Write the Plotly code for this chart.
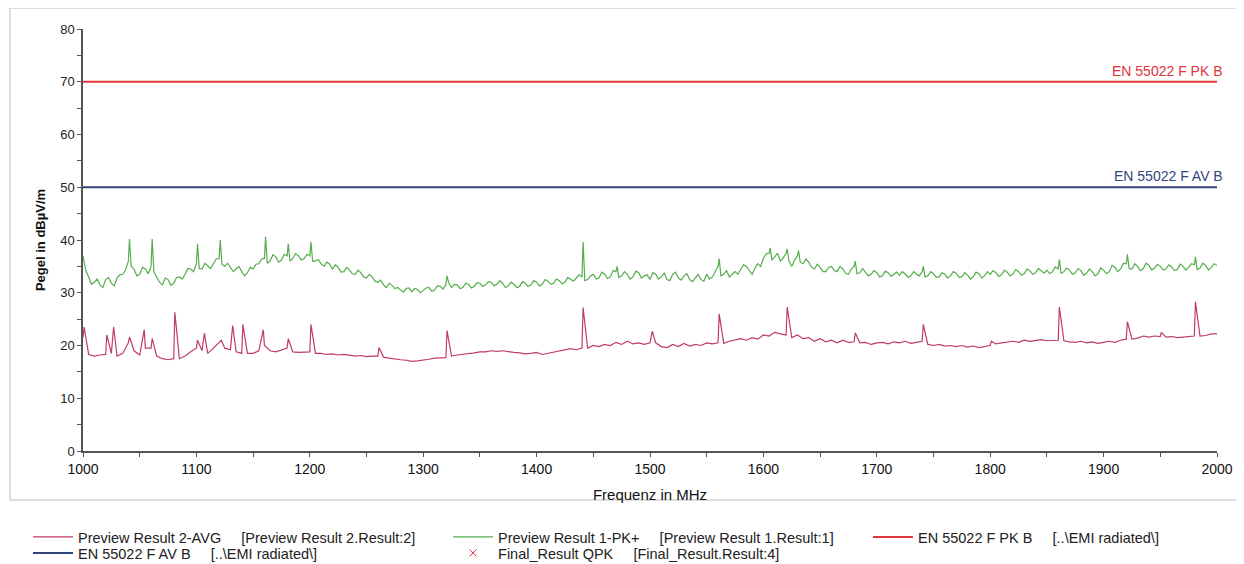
import plotly.graph_objects as go

# Frequency grid (MHz) for both preview traces, 5 MHz steps
grid_start, grid_step = 1000, 5

# Preview Result 1-PK+ (green), one value per 5 MHz from 1000 to 2000
pk_levels = [
    37.0, 33.0, 32.0, 31.5, 32.5, 31.8, 32.8, 33.5, 36.0, 34.5,
    33.5, 34.5, 35.0, 33.0, 31.5, 32.5, 31.8, 33.0, 33.5, 34.5,
    35.5, 34.5, 35.0, 35.5, 36.5, 35.0, 34.8, 34.5, 34.0, 33.8,
    34.5, 35.5, 36.5, 36.0, 36.8, 36.2, 37.0, 36.5, 37.0, 36.5,
    37.0, 36.0, 35.5, 35.8, 34.5, 34.8, 34.0, 34.3, 33.5, 33.8,
    32.8, 33.0, 32.0, 31.5, 31.8, 30.8, 30.5, 30.8, 30.2, 30.6,
    30.4, 31.0, 30.5, 31.2, 31.5, 31.0, 31.5, 31.0, 31.6, 31.2,
    31.8, 31.5, 32.0, 31.6, 31.8, 31.3, 31.6, 31.2, 31.8, 31.5,
    32.0, 31.6, 32.2, 31.8, 32.3, 32.0, 32.5, 32.8, 33.0, 32.5,
    33.5, 32.8, 33.5, 33.0, 34.0, 33.2, 33.5, 33.0, 33.8, 33.2,
    32.5, 33.5, 33.0, 32.5, 33.5, 32.8, 33.2, 32.5, 32.8, 32.5,
    33.5, 33.0, 35.0, 33.5, 33.0, 34.0, 34.5, 35.0, 33.5, 35.5,
    36.5, 37.5, 36.8, 36.0, 37.5, 35.0, 37.0, 35.5, 35.8, 34.5,
    34.8, 34.0, 35.0, 34.0, 34.5, 33.5, 35.0, 33.8, 34.0, 33.5,
    33.8, 33.2, 33.8, 33.5, 33.3, 33.6, 33.2, 33.5, 34.0, 33.2,
    33.6, 33.0, 33.5, 33.2, 33.7, 33.0, 33.4, 33.0, 33.6, 33.2,
    33.5, 33.8, 33.4, 33.9, 33.5, 34.0, 33.6, 34.2, 33.8, 34.1,
    34.3, 34.0, 34.5, 34.0, 34.3, 33.8, 34.2, 33.7, 34.0, 33.6,
    34.3, 34.0, 34.8, 34.5, 35.5, 34.5, 35.0, 34.6, 35.2, 34.7,
    35.0, 34.5, 34.9, 34.4, 35.0, 34.8, 35.3, 34.7, 35.2, 34.8,
    35.2,
]
# PK+ readings halfway between the grid points (1002.5, 1007.5, ... 1997.5)
pk_mid_levels = [
    34.2, 31.6, 32.6, 31.0, 32.9, 31.3, 33.4, 34.3, 35.0, 33.2,
    34.8, 33.6, 34.0, 32.0, 32.8, 31.4, 32.9, 32.6, 34.6, 34.0,
    34.6, 35.6, 34.6, 36.4, 35.4, 35.6, 34.0, 35.0, 33.2, 34.8,
    35.4, 36.4, 35.6, 37.2, 35.8, 37.3, 36.0, 37.4, 36.2, 37.3,
    36.0, 36.3, 35.0, 35.4, 35.3, 33.9, 34.8, 33.6, 34.3, 33.0,
    33.5, 32.2, 32.4, 31.0, 31.4, 31.0, 30.1, 30.9, 30.8, 30.0,
    30.9, 30.3, 31.3, 30.7, 31.9, 31.6, 30.8, 31.8, 30.9, 31.9,
    31.2, 32.1, 31.3, 32.3, 31.0, 32.0, 31.0, 32.1, 31.2, 32.3,
    31.3, 32.5, 31.6, 32.6, 31.7, 32.9, 32.2, 33.4, 32.3, 33.2,
    32.6, 33.9, 32.7, 34.2, 32.9, 34.0, 32.6, 34.1, 32.8, 33.4,
    33.8, 32.6, 33.7, 32.3, 33.9, 32.4, 33.6, 32.1, 33.5, 32.2,
    32.6, 34.0, 33.2, 34.2, 33.6, 33.5, 35.3, 34.2, 34.6, 35.0,
    37.4, 36.2, 37.5, 36.6, 36.0, 36.2, 35.8, 36.4, 34.8, 35.4,
    34.0, 34.8, 34.2, 35.0, 33.7, 34.5, 33.6, 34.6, 33.2, 34.2,
    33.0, 34.1, 33.1, 33.9, 34.0, 32.9, 34.0, 33.2, 33.0, 34.0,
    32.9, 33.8, 32.8, 34.0, 32.9, 33.8, 32.6, 33.9, 32.8, 34.0,
    34.2, 33.1, 34.3, 33.2, 34.4, 33.3, 34.5, 33.5, 34.6, 33.7,
    33.6, 34.9, 33.7, 34.7, 33.5, 34.6, 33.3, 34.5, 33.2, 34.7,
    33.6, 35.2, 34.0, 35.6, 34.6, 35.5, 34.2, 35.6, 34.3, 35.4,
    34.3, 35.3, 34.2, 35.4, 34.3, 35.5, 34.4, 35.6, 34.3, 35.5,
]
pk_spike_freq = [1041, 1061, 1101, 1121, 1161, 1181, 1201, 1321, 1441, 1471,
                 1561, 1606, 1621, 1631, 1681, 1741, 1861, 1921, 1981]
pk_spike_level = [40.2, 40.2, 39.3, 40.0, 40.6, 39.3, 39.6, 33.2, 39.6, 35.0,
                  36.5, 38.5, 38.3, 38.0, 36.0, 35.0, 36.3, 37.3, 36.8]

# Preview Result 2-AVG (pink)
avg_levels = [
    21.5, 18.3, 18.0, 18.2, 18.3, 18.5, 18.0, 18.5, 20.5, 19.0,
    18.2, 19.5, 19.5, 18.0, 17.5, 17.3, 17.5, 17.5, 18.0, 18.8,
    19.5, 19.0, 18.5, 19.5, 20.5, 19.5, 19.2, 18.8, 18.5, 18.5,
    18.5, 19.0, 20.0, 19.0, 18.8, 19.2, 19.5, 18.8, 18.7, 18.8,
    18.8, 18.5, 18.5, 18.3, 18.4, 18.2, 18.3, 18.2, 18.0, 18.1,
    17.9, 18.0, 18.0, 17.8, 17.6, 17.4, 17.3, 17.2, 17.0, 17.1,
    17.2, 17.4, 17.6, 17.6, 17.7, 18.0, 18.2, 18.3, 18.5, 18.6,
    18.8, 18.8, 19.0, 18.9, 19.0, 18.8, 18.7, 18.6, 18.4, 18.5,
    18.7, 18.3, 18.5, 18.8, 19.0, 19.2, 19.4, 19.2, 19.5, 19.5,
    20.0, 19.8, 20.2, 20.0, 20.6, 20.2, 20.8, 20.3, 20.5, 20.2,
    20.5, 20.5, 19.8, 19.6, 20.2, 19.8, 20.4, 19.9, 20.2, 20.0,
    20.5, 20.3, 20.5, 20.4, 20.8, 21.0, 21.3, 21.0, 21.5, 21.2,
    22.0, 21.8, 22.5, 22.2, 22.0, 21.5, 22.0, 21.3, 21.5, 20.8,
    21.3, 20.7, 21.0, 20.5, 21.0, 20.6, 20.7, 20.5, 20.6, 20.2,
    20.5, 20.6, 20.3, 20.7, 20.5, 20.8, 20.4, 20.6, 20.8, 20.2,
    20.0, 20.2, 19.9, 20.0, 19.8, 20.0, 19.7, 19.9, 19.6, 19.8,
    20.0, 20.3, 20.5, 20.6, 20.8, 20.6, 21.0, 20.8, 21.0, 21.1,
    20.9, 21.0, 21.0, 20.9, 20.7, 20.6, 20.8, 20.5, 20.7, 20.4,
    20.6, 20.8, 20.6, 21.0, 21.2, 21.2, 21.4, 21.8, 21.6, 21.8,
    21.7, 21.6, 21.7, 21.5, 21.6, 21.7, 21.8, 21.8, 21.9, 22.2,
    22.2,
]
avg_spike_freq = [1001, 1021, 1027, 1041, 1054, 1061, 1081, 1101, 1107, 1122,
                  1132, 1141, 1159, 1181, 1201, 1261, 1321, 1441, 1502, 1561,
                  1621, 1681, 1741, 1801, 1861, 1921, 1951, 1981]
avg_spike_level = [23.5, 22.0, 23.5, 21.6, 23.0, 21.3, 26.3, 21.0, 22.3, 21.0,
                   23.8, 24.0, 23.0, 21.3, 24.0, 19.6, 22.8, 27.2, 22.7, 26.0,
                   27.3, 22.4, 24.0, 20.8, 27.3, 24.5, 22.5, 28.3]

freq_range = [1000, 2000]
limit_pk = 70
limit_av = 50

GAP = "\u00a0" * 5
legend_names = [
    f"Preview Result 2-AVG{GAP}[Preview Result 2.Result:2]",
    f"Preview Result 1-PK+{GAP}[Preview Result 1.Result:1]",
    f"EN 55022 F PK B{GAP}[..\\EMI radiated\\]",
    f"EN 55022 F AV B{GAP}[..\\EMI radiated\\]",
    f"Final_Result QPK{GAP}[Final_Result.Result:4]",
]

PK_RED = "#e0343a"
AV_BLUE = "#34457a"


def merge(levels, sfreq, slevel, mids=()):
    pts = [(grid_start + i * grid_step, v) for i, v in enumerate(levels)]
    pts += [(grid_start + i * grid_step + grid_step / 2, v) for i, v in enumerate(mids)]
    pts += list(zip(sfreq, slevel))
    pts.sort()
    return [p[0] for p in pts], [p[1] for p in pts]


avg_x, avg_y = merge(avg_levels, avg_spike_freq, avg_spike_level)
pk_x, pk_y = merge(pk_levels, pk_spike_freq, pk_spike_level, pk_mid_levels)

fig = go.Figure()
fig.add_scatter(x=avg_x, y=avg_y, mode="lines", name=legend_names[0], legend="legend",
                line=dict(color="#c03a68", width=1.2))
fig.add_scatter(x=pk_x, y=pk_y, mode="lines", name=legend_names[1], legend="legend2",
                line=dict(color="#55ad4c", width=1.2))
fig.add_scatter(x=freq_range, y=[limit_pk] * 2, mode="lines", name=legend_names[2],
                legend="legend3", line=dict(color=PK_RED, width=2))
fig.add_scatter(x=freq_range, y=[limit_av] * 2, mode="lines", name=legend_names[3],
                legend="legend4", line=dict(color=AV_BLUE, width=2))
fig.add_scatter(x=[None], y=[None], mode="markers", name=legend_names[4], legend="legend5",
                marker=dict(symbol="x-thin", color=PK_RED, size=7,
                            line=dict(width=1, color=PK_RED)))

fig.add_annotation(x=freq_range[1], y=limit_pk, text="EN 55022 F PK B", showarrow=False,
                   xanchor="right", yanchor="bottom", xshift=8, yshift=1,
                   font=dict(color=PK_RED, size=14))
fig.add_annotation(x=freq_range[1], y=limit_av, text="EN 55022 F AV B", showarrow=False,
                   xanchor="right", yanchor="bottom", xshift=8, yshift=1,
                   font=dict(color=AV_BLUE, size=14))

# faint frame around the chart
fig.add_shape(type="rect", xref="paper", yref="paper",
              x0=-0.0644, x1=1.0185, y0=-0.116, y1=1.0498,
              line=dict(color="#d4d4d4", width=1.5))

axis_common = dict(showgrid=False, zeroline=False, showline=True, linecolor="#555",
                   linewidth=1.5, ticks="outside", tickcolor="#555", ticklen=4)

fig.update_xaxes(range=freq_range, dtick=100, title_text="Frequenz in MHz",
                 title_font=dict(size=15, color="#111"), title_standoff=14,
                 tickfont=dict(size=14, color="#111"),
                 minor=dict(dtick=50, ticks="outside", ticklen=4, tickcolor="#555"),
                 **axis_common)
fig.update_yaxes(range=[0, 80], dtick=10, title_text="<b>Pegel in dBµV/m</b>",
                 title_font=dict(size=13, color="#111"), title_standoff=12,
                 tickfont=dict(size=13, color="#222"),
                 minor=dict(dtick=5, ticks="outside", ticklen=4, tickcolor="#555"),
                 **axis_common)

# one single-item legend per slot so the two legend rows line up in columns
legend_common = dict(orientation="v", xanchor="left", yanchor="middle",
                     font=dict(size=14.5), itemwidth=40, bgcolor="rgba(0,0,0,0)")
col_x = [-0.0485, 0.3219, 0.6922]
row_y = [-0.2038, -0.2417]

# page body has an 8 px margin, so the figure is 8 px smaller than the window
fig.update_layout(
    width=1236, height=556, showlegend=True,
    margin=dict(l=75, r=27, t=21, b=113, autoexpand=False),
    plot_bgcolor="white", paper_bgcolor="white",
    font=dict(family="Liberation Sans, Arial, sans-serif", color="#222"),
    legend=dict(x=col_x[0], y=row_y[0], **legend_common),
    legend2=dict(x=col_x[1], y=row_y[0], **legend_common),
    legend3=dict(x=col_x[2], y=row_y[0], **legend_common),
    legend4=dict(x=col_x[0], y=row_y[1], **legend_common),
    legend5=dict(x=col_x[1], y=row_y[1], **legend_common),
)

fig.write_html("out.html")
